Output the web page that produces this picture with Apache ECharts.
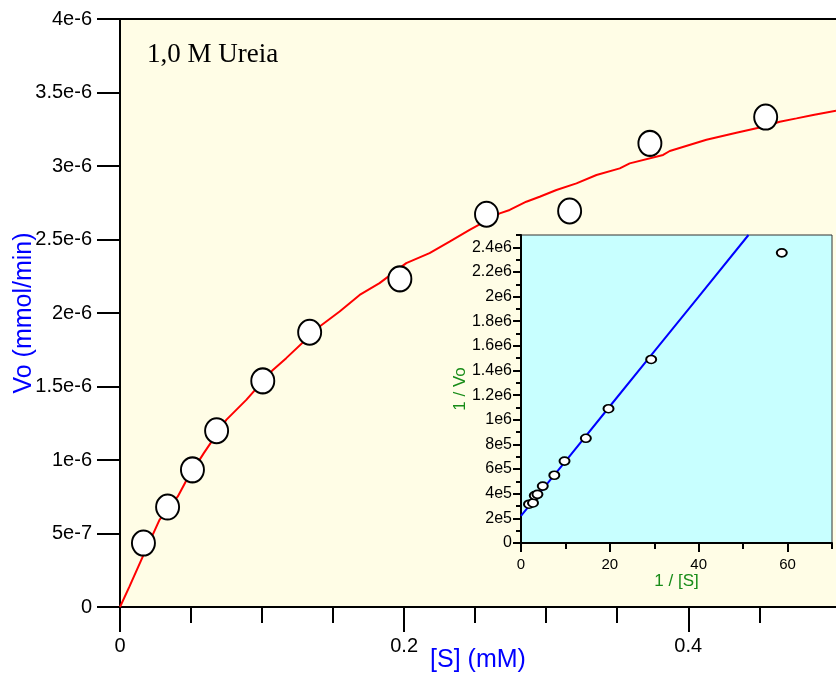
<!DOCTYPE html>
<html>
<head>
<meta charset="utf-8">
<script src="https://cdn.jsdelivr.net/npm/echarts@6/dist/echarts.min.js"></script>
<style>
html,body{margin:0;padding:0;background:#fff;}
#c{width:836px;height:678px;}
</style>
</head>
<body>
<div id="c"></div>
<script>
// Main plot: measured points
var pointsS  = [0.0165, 0.0335, 0.051, 0.068, 0.1005, 0.1335, 0.197, 0.258, 0.3165, 0.373, 0.4545];
var pointsVo = [4.35e-7, 6.80e-7, 9.33e-7, 1.199e-6, 1.538e-6, 1.869e-6, 2.232e-6, 2.672e-6, 2.694e-6, 3.154e-6, 3.333e-6];
// Main plot: fitted curve
var curveS  = [0, 0.0067, 0.0161, 0.0278, 0.0407, 0.0466, 0.059, 0.0748, 0.0889, 0.1076, 0.117, 0.141, 0.1546, 0.1687, 0.1827, 0.2015, 0.2179, 0.232, 0.2461, 0.2673, 0.2743, 0.286, 0.2954, 0.3072, 0.3213, 0.3354, 0.3518, 0.3588, 0.3823, 0.387, 0.4128, 0.4339, 0.4527, 0.4644, 0.4762, 0.4879, 0.504];
var curveVo = [0, 0.140e-6, 0.344e-6, 0.593e-6, 0.752e-6, 0.859e-6, 1.047e-6, 1.273e-6, 1.409e-6, 1.613e-6, 1.693e-6, 1.912e-6, 2.010e-6, 2.123e-6, 2.203e-6, 2.339e-6, 2.407e-6, 2.485e-6, 2.565e-6, 2.678e-6, 2.701e-6, 2.757e-6, 2.791e-6, 2.837e-6, 2.882e-6, 2.939e-6, 2.984e-6, 3.018e-6, 3.075e-6, 3.102e-6, 3.179e-6, 3.226e-6, 3.267e-6, 3.301e-6, 3.324e-6, 3.347e-6, 3.376e-6];
// Inset (Lineweaver-Burk): points
var invS  = [1.8, 2.7, 3.1, 3.7, 4.9, 7.5, 9.8, 14.6, 19.7, 29.3, 58.7];
var invVo = [3.15e5, 3.25e5, 3.85e5, 3.95e5, 4.62e5, 5.5e5, 6.65e5, 8.5e5, 1.09e6, 1.49e6, 2.355e6];
// Inset fitted line
var lineInvS  = [0, 10, 20, 30, 40, 51.2];
var lineInvVo = [2.21e5, 6.62e5, 1.11e6, 1.556e6, 2.0e6, 2.5e6];
// Tick values
var mainXMajor = [0, 0.2, 0.4];
var mainXMinor = [0.05, 0.1, 0.15, 0.25, 0.3, 0.35, 0.45];
var insetXMajor = [0, 20, 40, 60];
var insetXMinor = [10, 30, 50, 70];
var insetYMajor = [0, 2e5, 4e5, 6e5, 8e5, 1e6, 1.2e6, 1.4e6, 1.6e6, 1.8e6, 2e6, 2.2e6, 2.4e6];
var insetYMinor = [1e5, 3e5, 5e5, 7e5, 9e5, 1.1e6, 1.3e6, 1.5e6, 1.7e6, 1.9e6, 2.1e6, 2.3e6, 2.5e6];

function zip(a, b) { return a.map(function (v, i) { return [v, b[i]]; }); }
function expFmt(v) {
  if (v === 0) return '0';
  return Number(v.toPrecision(6)).toExponential().replace('+', '');
}

var SANS = 'Liberation Sans, Arial, sans-serif';
var GREEN = 'rgb(24,140,24)';
var chart = echarts.init(document.getElementById('c'), null, {renderer: 'canvas'});

var option = {
  backgroundColor: '#ffffff',
  animation: false,
  title: {
    text: '1,0 M Ureia', left: 142, top: 36,
    textStyle: {fontFamily: 'Liberation Serif, Times New Roman, serif', fontSize: 27, fontWeight: 'normal', color: '#000'}
  },
  grid: [
    {left: 120, top: 19, right: 0, bottom: 71, show: true, backgroundColor: '#FFFDE6', borderWidth: 0, containLabel: false, outerBoundsMode: 'none'},
    {left: 521, top: 235, right: 4, bottom: 135, show: true, backgroundColor: '#C8FFFF', borderColor: '#333', borderWidth: 1, z: 10, containLabel: false, outerBoundsMode: 'none'}
  ],
  xAxis: [
    { // 0 main bottom major
      gridIndex: 0, type: 'value', min: 0, max: 0.504, position: 'bottom',
      axisLine: {show: true, onZero: false, lineStyle: {color: '#000', width: 2}},
      axisTick: {show: true, length: 25, customValues: mainXMajor, lineStyle: {color: '#000', width: 2}},
      axisLabel: {customValues: mainXMajor, fontSize: 20, margin: 29, color: '#000', fontFamily: SANS},
      splitLine: {show: false},
      name: '[S] (mM)', nameLocation: 'middle', nameGap: 41, nameMoveOverlap: false,
      nameTextStyle: {color: '#0000FF', fontSize: 25, fontFamily: SANS}
    },
    { // 1 main bottom minor
      gridIndex: 0, type: 'value', min: 0, max: 0.504, position: 'bottom',
      axisLine: {show: false, onZero: false},
      axisTick: {show: true, length: 16, customValues: mainXMinor, lineStyle: {color: '#000', width: 2}},
      axisLabel: {show: false},
      splitLine: {show: false}
    },
    { // 2 main top line
      gridIndex: 0, type: 'value', min: 0, max: 0.504, position: 'top',
      axisLine: {show: true, onZero: false, lineStyle: {color: '#000', width: 2}},
      axisTick: {show: false}, axisLabel: {show: false}, splitLine: {show: false}
    },
    { // 3 inset bottom major
      gridIndex: 1, type: 'value', min: 0, max: 70, position: 'bottom', z: 12,
      axisLine: {show: true, onZero: false, lineStyle: {color: '#000', width: 2}},
      axisTick: {show: true, length: 9, customValues: insetXMajor, lineStyle: {color: '#000', width: 2}},
      axisLabel: {customValues: insetXMajor, fontSize: 15, margin: 14, color: '#000', fontFamily: SANS},
      splitLine: {show: false},
      name: '1 / [S]', nameLocation: 'middle', nameGap: 30, nameMoveOverlap: false,
      nameTextStyle: {color: GREEN, fontSize: 17, fontFamily: SANS}
    },
    { // 4 inset bottom minor
      gridIndex: 1, type: 'value', min: 0, max: 70, position: 'bottom', z: 12,
      axisLine: {show: false, onZero: false},
      axisTick: {show: true, length: 6, customValues: insetXMinor, lineStyle: {color: '#000', width: 2}},
      axisLabel: {show: false}, splitLine: {show: false}
    }
  ],
  yAxis: [
    { // 0 main
      gridIndex: 0, type: 'value', min: 0, max: 4e-6, interval: 5e-7, position: 'left',
      axisLine: {show: true, onZero: false, lineStyle: {color: '#000', width: 2}},
      axisTick: {show: true, length: 23, lineStyle: {color: '#000', width: 2}},
      axisLabel: {fontSize: 20, margin: 28, color: '#000', fontFamily: SANS, formatter: expFmt},
      splitLine: {show: false},
      name: 'Vo (mmol/min)', nameLocation: 'middle', nameGap: 83, nameRotate: 90, nameMoveOverlap: false,
      nameTextStyle: {color: '#0000FF', fontSize: 25, fontFamily: SANS}
    },
    { // 1 inset major
      gridIndex: 1, type: 'value', min: 0, max: 2.5e6, z: 12, position: 'left',
      axisLine: {show: true, onZero: false, lineStyle: {color: '#000', width: 2}},
      axisTick: {show: true, length: 8, customValues: insetYMajor, lineStyle: {color: '#000', width: 2}},
      axisLabel: {customValues: insetYMajor, fontSize: 16, margin: 9, color: '#000', fontFamily: SANS, formatter: expFmt},
      splitLine: {show: false},
      name: '1 / Vo', nameLocation: 'middle', nameGap: 52, nameRotate: 90, nameMoveOverlap: false,
      nameTextStyle: {color: GREEN, fontSize: 17, fontFamily: SANS}
    },
    { // 2 inset minor
      gridIndex: 1, type: 'value', min: 0, max: 2.5e6, z: 12, position: 'left',
      axisLine: {show: false, onZero: false},
      axisTick: {show: true, length: 5, customValues: insetYMinor, lineStyle: {color: '#000', width: 2}},
      axisLabel: {show: false}, splitLine: {show: false}
    }
  ],
  series: [
    {
      type: 'line', xAxisIndex: 0, yAxisIndex: 0, data: zip(curveS, curveVo),
      showSymbol: false, smooth: false, lineStyle: {color: '#FF0000', width: 2}, z: 3
    },
    {
      type: 'scatter', xAxisIndex: 0, yAxisIndex: 0, data: zip(pointsS, pointsVo),
      symbol: 'circle', symbolSize: [23, 25],
      itemStyle: {color: '#FFFFFF', borderColor: '#000', borderWidth: 2, opacity: 1}, z: 4
    },
    {
      type: 'line', xAxisIndex: 3, yAxisIndex: 1, data: zip(lineInvS, lineInvVo),
      showSymbol: false, smooth: false, clip: true, lineStyle: {color: '#0000FF', width: 2}, z: 13
    },
    {
      type: 'scatter', xAxisIndex: 3, yAxisIndex: 1, data: zip(invS, invVo),
      symbol: 'circle', symbolSize: [10, 8],
      itemStyle: {color: '#FFFFFF', borderColor: '#000', borderWidth: 1.8, opacity: 1}, z: 14
    }
  ]
};
chart.setOption(option);
</script>
</body>
</html>
